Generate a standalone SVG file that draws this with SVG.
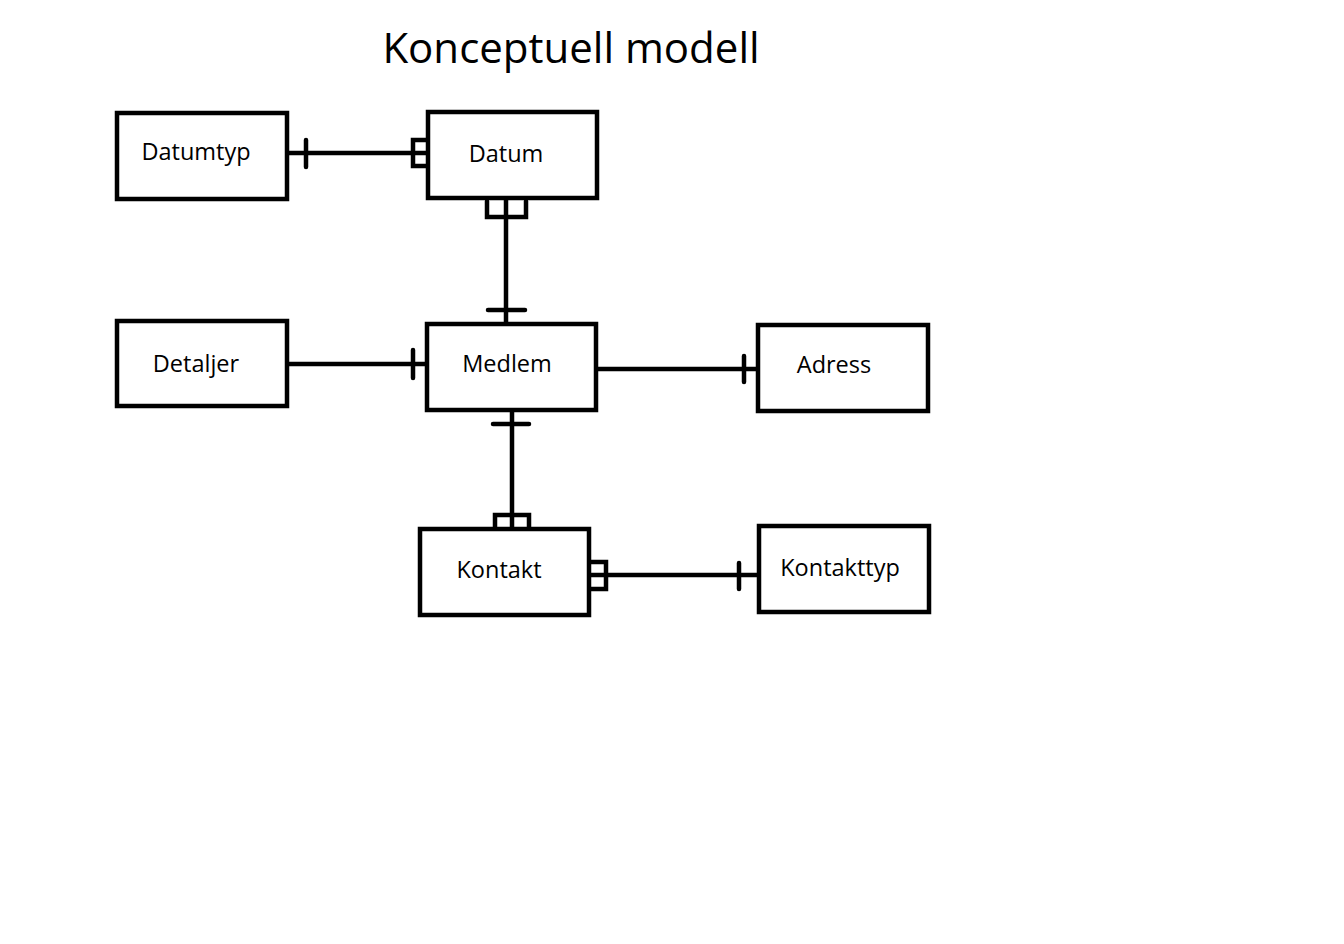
<svg xmlns="http://www.w3.org/2000/svg" width="1344" height="944" viewBox="0 0 1344 944">
<style>
.box{fill:#fff;stroke:#000;stroke-width:4.5}
.lbl{font-family:"Open Sans","Liberation Sans",sans-serif;font-size:23.5px;fill:#000;text-anchor:middle;dominant-baseline:central}
.ln{fill:none;stroke:#000;stroke-width:4.5;stroke-linecap:round;stroke-linejoin:miter}
.title{font-family:"Open Sans","Liberation Sans",sans-serif;font-size:42px;fill:#000;text-anchor:middle;dominant-baseline:central}
</style>
<rect width="1344" height="944" fill="#fff"/>
<text class="title" x="571" y="46">Konceptuell modell</text>
<g id="connectors">
  <!-- Datumtyp - Datum -->
  <path class="ln" d="M288 153 H427"/>
  <path class="ln" d="M306 140 V167"/>
  <path class="ln" d="M427 140 H413 V166 H427"/>
  <!-- Datum - Medlem -->
  <path class="ln" d="M506 199 V323"/>
  <path class="ln" d="M487 201 V217 H526 V201"/>
  <path class="ln" d="M488 310 H525"/>
  <!-- Detaljer - Medlem -->
  <path class="ln" d="M288 364 H426"/>
  <path class="ln" d="M413 350 V378"/>
  <!-- Medlem - Adress -->
  <path class="ln" d="M597 369 H757"/>
  <path class="ln" d="M744 356 V382"/>
  <!-- Medlem - Kontakt -->
  <path class="ln" d="M512 411 V528"/>
  <path class="ln" d="M493 424 H529"/>
  <path class="ln" d="M495 528 V515 H529 V528"/>
  <!-- Kontakt - Kontakttyp -->
  <path class="ln" d="M590 575 H758"/>
  <path class="ln" d="M590 562 H606 V589 H590"/>
  <path class="ln" d="M739 563 V589"/>
</g>
<g id="datumtyp"><rect class="box" x="117" y="113" width="170" height="86"/><text class="lbl" x="196" y="151">Datumtyp</text></g>
<g id="datum"><rect class="box" x="428" y="112" width="169" height="86"/><text class="lbl" x="506" y="153">Datum</text></g>
<g id="detaljer"><rect class="box" x="117" y="321" width="170" height="85"/><text class="lbl" x="196" y="363">Detaljer</text></g>
<g id="medlem"><rect class="box" x="427" y="324" width="169" height="86"/><text class="lbl" x="507" y="363">Medlem</text></g>
<g id="adress"><rect class="box" x="758" y="325" width="170" height="86"/><text class="lbl" x="834" y="364">Adress</text></g>
<g id="kontakt"><rect class="box" x="420" y="529" width="169" height="86"/><text class="lbl" x="499" y="569">Kontakt</text></g>
<g id="kontakttyp"><rect class="box" x="759" y="526" width="170" height="86"/><text class="lbl" x="840" y="567">Kontakttyp</text></g>
</svg>
